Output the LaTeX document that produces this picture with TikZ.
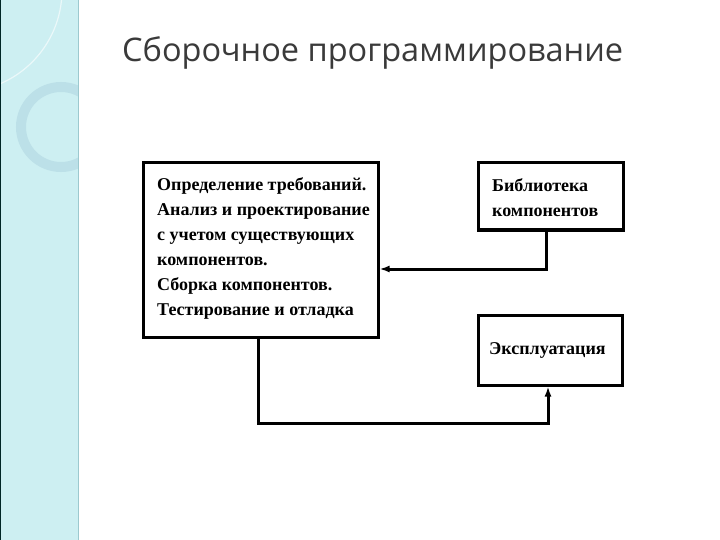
\documentclass[tikz,border=0pt]{standalone}
\usepackage{fontspec}
\setmainfont{Liberation Serif}
\newfontfamily\titlefont{Open Sans}
\usetikzlibrary{arrows.meta}
\definecolor{stripbg}{HTML}{CDEFF2}
\definecolor{stripedge}{HTML}{9CC9CF}
\definecolor{ringcol}{HTML}{BCE0E8}
\definecolor{titlecol}{HTML}{3A3A3A}
\tikzset{
  boxnode/.style={draw=black, line width=3pt, fill=white, inner sep=0pt},
  boxtext/.style={inner sep=0pt, align=left, font=\bfseries\fontsize{18}{25}\selectfont},
  conn/.style={draw=black, line width=3pt},
  arr/.style={conn, -{Latex[length=10pt,width=7pt]}}
}
\begin{document}
\begin{tikzpicture}[x=1pt,y=-1pt]
\useasboundingbox (0,0) rectangle (720,540);
\fill[white] (0,0) rectangle (720,540);
% left decorative strip
\fill[stripbg] (0,0) rectangle (79,540);
\begin{scope}
\clip (0,0) rectangle (78,540);
\draw[ringcol, line width=10pt] (61,127) circle (40);
\draw[white, opacity=0.6, line width=1.2pt] (-40,-10) circle (102);
\end{scope}
\draw[stripedge, line width=1.2pt] (78.4,0) -- (78.4,540);
\draw[black!70!teal, line width=1pt] (0.5,0) -- (0.5,540);
% title
\node[anchor=base west, text=titlecol, font=\titlefont\fontsize{32.5}{38}\selectfont, inner sep=0pt] (title) at (122,62) {Сборочное программирование};
% boxes
\node[boxnode, minimum width=235pt, minimum height=174pt] (main) at (260.5,250) {};
\node[boxtext, anchor=west] (maintext) at (157,248) {Определение требований.\\Анализ и проектирование\\с учетом существующих\\компонентов.\\Сборка компонентов.\\Тестирование и отладка};
\node[boxnode, minimum width=145pt, minimum height=67pt] (lib) at (550.5,196.5) {};
\node[boxtext, anchor=west] (libtext) at (492,198) {Библиотека\\компонентов};
\node[boxnode, minimum width=144pt, minimum height=70pt] (expl) at (550,350) {};
\node[boxtext, anchor=west] (expltext) at (489,350) {Эксплуатация};
% connectors
\coordinate (j1) at (546,269);
\coordinate (j2) at (258,423);
\coordinate (j3) at (548,423);
\draw[arr] (lib.south -| j1) -- (j1) -- (main.east |- j1);
\draw[arr] (main.south -| j2) -- (j2) -- (j3) -- (expl.south -| j3);
\end{tikzpicture}
\end{document}
